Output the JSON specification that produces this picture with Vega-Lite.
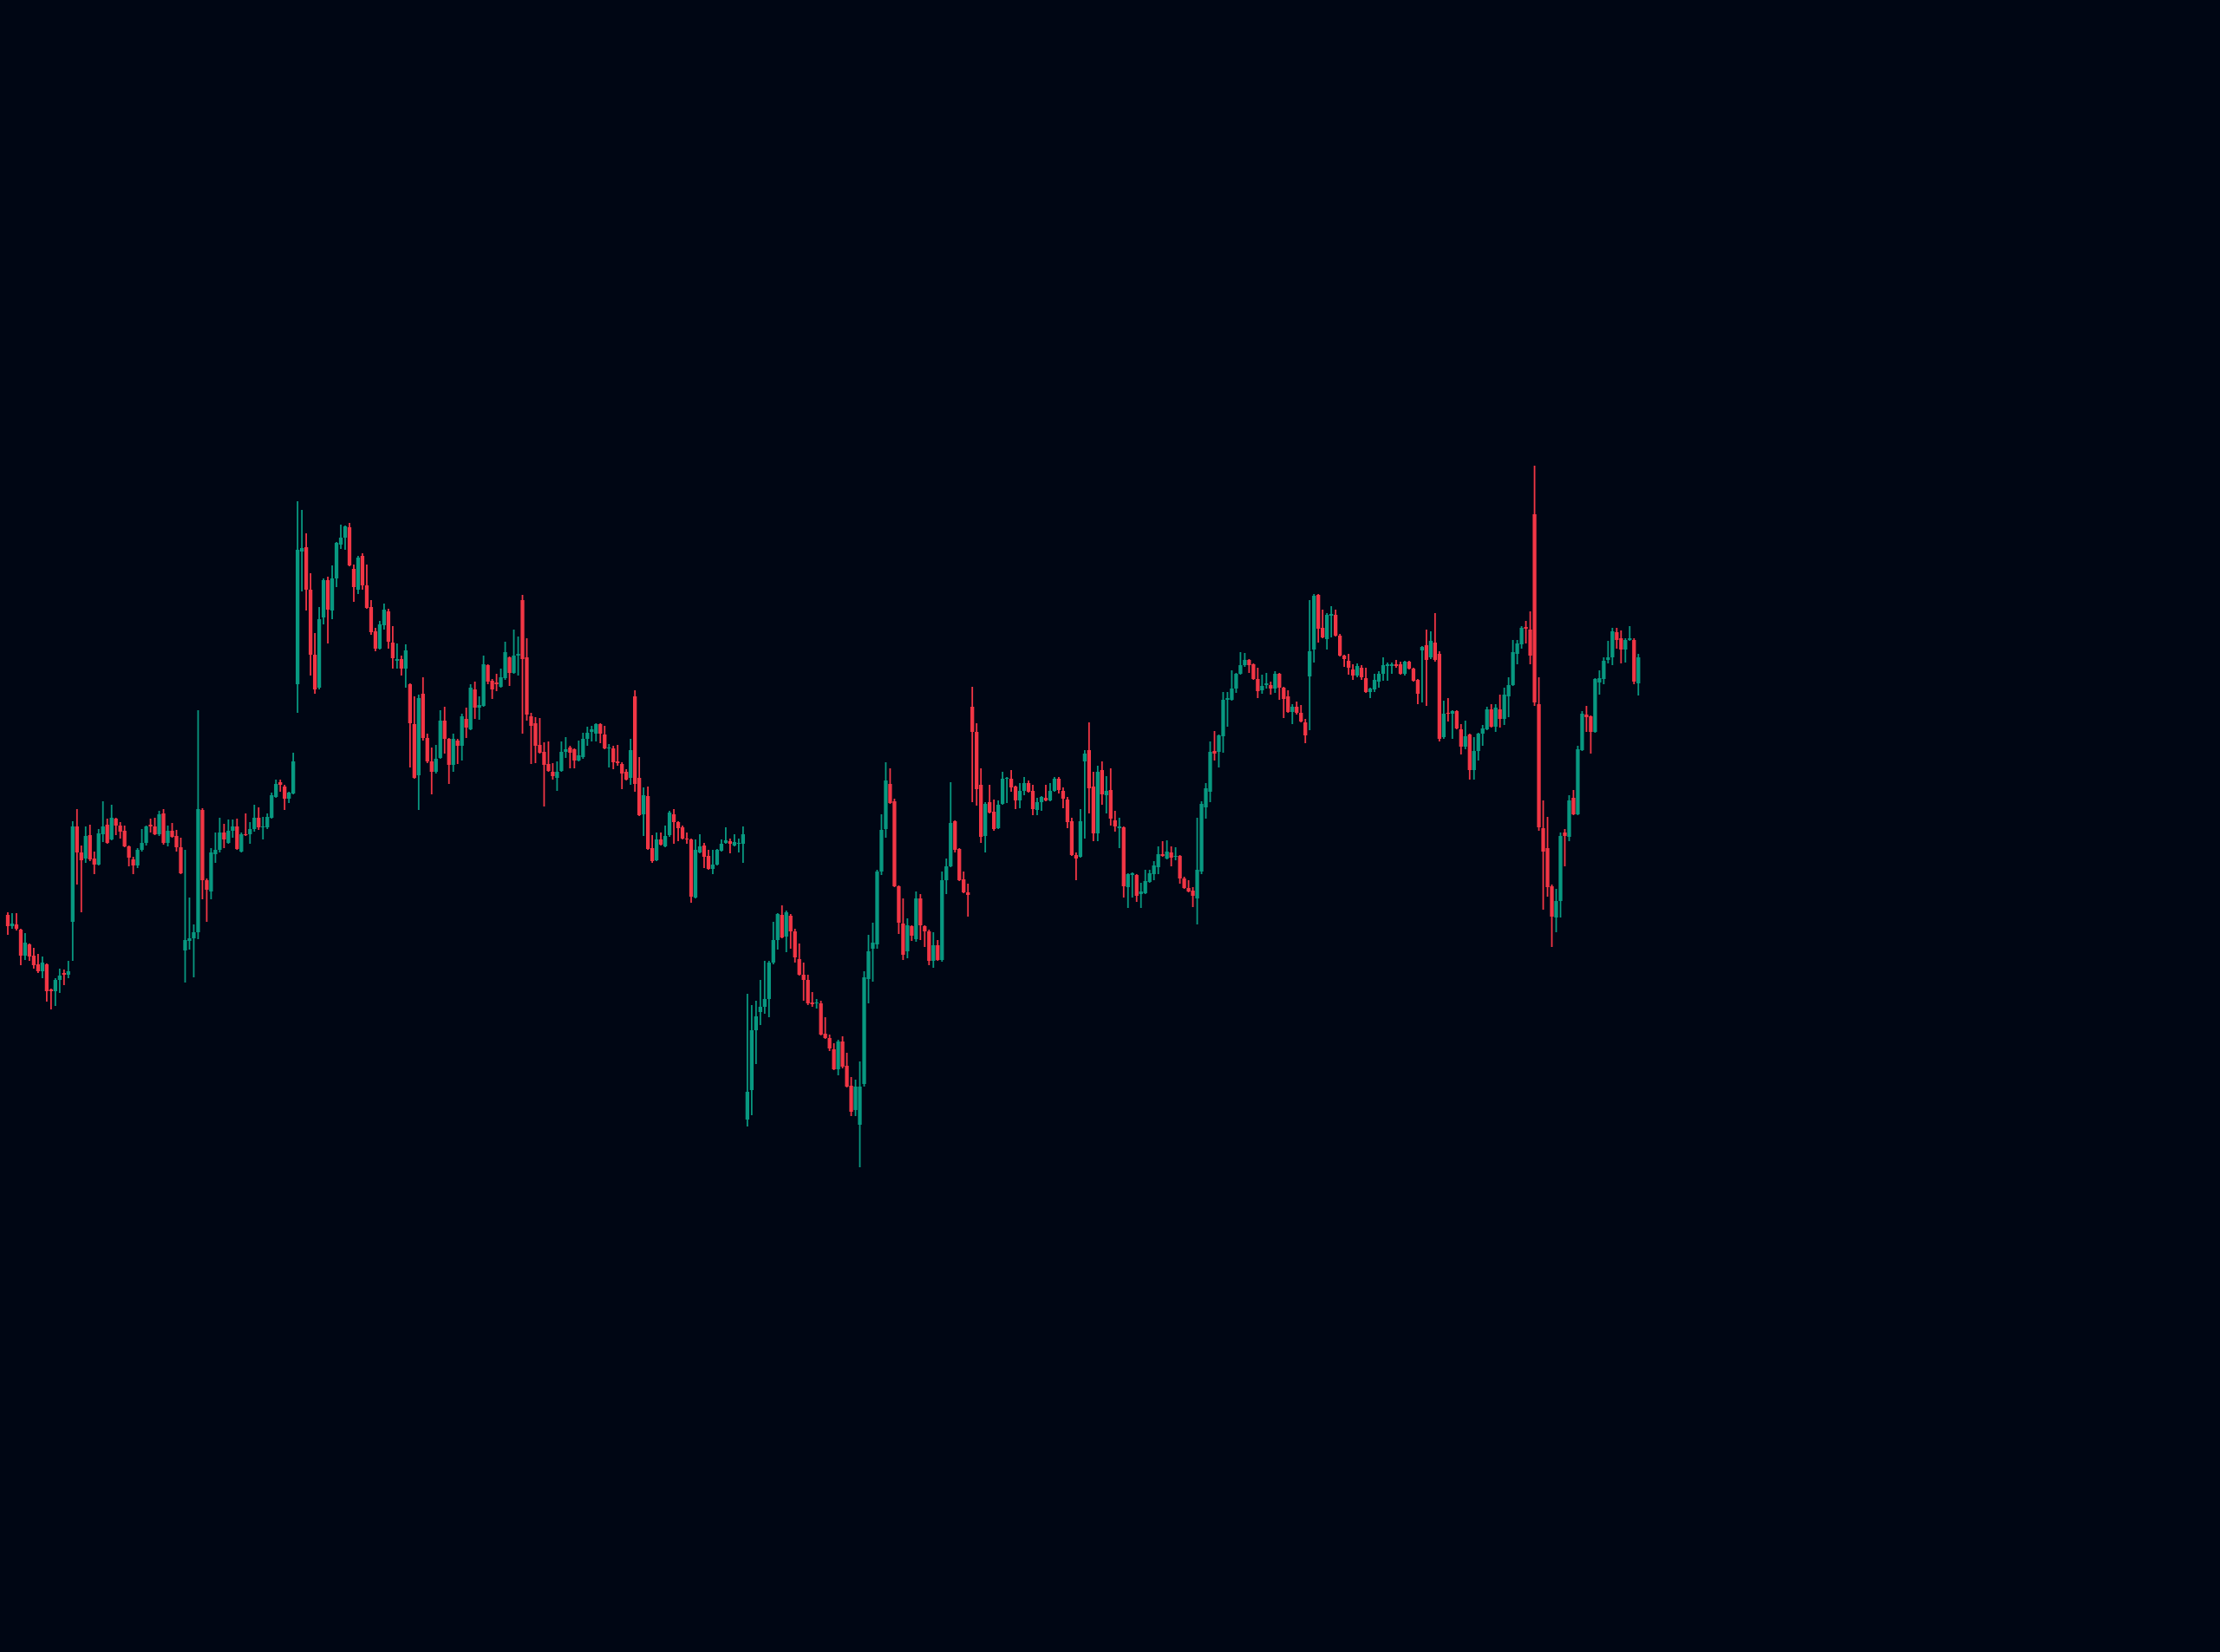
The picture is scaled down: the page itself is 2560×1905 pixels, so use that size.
{
"$schema": "https://vega.github.io/schema/vega-lite/v6.json",
"width": 2560, "height": 1905, "autosize": {"type": "none"}, "padding": 0,
"background": "#000614",
"config": {"view": {"stroke": null}},
"data": {"values": [
{"t":0,"open":94.5,"high":94.8,"low":92.2,"close":93.2},
{"t":1,"open":93.2,"high":94.7,"low":92.9,"close":93.5},
{"t":2,"open":93.4,"high":94.7,"low":92.7,"close":92.9},
{"t":3,"open":92.8,"high":92.9,"low":88.7,"close":89.8},
{"t":4,"open":89.8,"high":92.4,"low":89.3,"close":91.3},
{"t":5,"open":91.1,"high":91.2,"low":89.2,"close":89.7},
{"t":6,"open":89.8,"high":90.7,"low":88.3,"close":88.7},
{"t":7,"open":88.8,"high":90,"low":87.8,"close":88},
{"t":8,"open":88,"high":89.7,"low":87.2,"close":89},
{"t":9,"open":88.8,"high":88.9,"low":84.5,"close":85.7},
{"t":10,"open":85.9,"high":86,"low":83.6,"close":85.7},
{"t":11,"open":85.7,"high":87.2,"low":84,"close":87},
{"t":12,"open":87,"high":88.3,"low":85.5,"close":87.5},
{"t":13,"open":87.8,"high":88.2,"low":86.4,"close":87.6},
{"t":14,"open":87.6,"high":89.2,"low":87.2,"close":88},
{"t":15,"open":93.7,"high":105.3,"low":89.2,"close":104.7},
{"t":16,"open":104.7,"high":106.7,"low":98,"close":101.7},
{"t":17,"open":101.7,"high":102.5,"low":94.8,"close":100.8},
{"t":18,"open":101,"high":104.7,"low":100.5,"close":103.6},
{"t":19,"open":103.7,"high":104.9,"low":100.7,"close":100.9},
{"t":20,"open":101,"high":101.8,"low":99.2,"close":100.3},
{"t":21,"open":100.3,"high":104.4,"low":100.2,"close":103.9},
{"t":22,"open":103.8,"high":107.6,"low":102.9,"close":104.7},
{"t":23,"open":104.9,"high":105.6,"low":102.7,"close":102.8},
{"t":24,"open":103.2,"high":107.2,"low":103.1,"close":105.7},
{"t":25,"open":105.6,"high":105.7,"low":103.7,"close":104.8},
{"t":26,"open":104.8,"high":105.2,"low":103.3,"close":104.1},
{"t":27,"open":104.2,"high":104.8,"low":102.3,"close":102.4},
{"t":28,"open":102.4,"high":102.5,"low":100.1,"close":101.1},
{"t":29,"open":100.9,"high":101.2,"low":99.2,"close":100.2},
{"t":30,"open":100.2,"high":102.2,"low":99.9,"close":102},
{"t":31,"open":102,"high":104.4,"low":101.8,"close":102.8},
{"t":32,"open":102.8,"high":104.8,"low":102.5,"close":104.7},
{"t":33,"open":104.9,"high":105.6,"low":104,"close":104.7},
{"t":34,"open":104.7,"high":105.7,"low":103.7,"close":103.8},
{"t":35,"open":103.8,"high":106.5,"low":103.6,"close":106.1},
{"t":36,"open":106.2,"high":106.7,"low":102.6,"close":102.8},
{"t":37,"open":102.8,"high":104.8,"low":102.4,"close":104.2},
{"t":38,"open":104.2,"high":105.1,"low":103.4,"close":103.5},
{"t":39,"open":103.6,"high":104.3,"low":101.8,"close":102.3},
{"t":40,"open":102.3,"high":103.4,"low":99.2,"close":99.3},
{"t":41,"open":90.4,"high":102,"low":86.7,"close":91.6},
{"t":42,"open":91.5,"high":96.5,"low":90.5,"close":91.8},
{"t":43,"open":91.8,"high":93.4,"low":87.3,"close":92.5},
{"t":44,"open":92.5,"high":118.1,"low":91.7,"close":106.7},
{"t":45,"open":106.6,"high":106.8,"low":96.3,"close":98.5},
{"t":46,"open":98.5,"high":98.7,"low":93.7,"close":97.4},
{"t":47,"open":97.2,"high":102.2,"low":96.3,"close":101.7},
{"t":48,"open":101.5,"high":104,"low":100.5,"close":102},
{"t":49,"open":102,"high":105.7,"low":101.7,"close":104},
{"t":50,"open":104,"high":105,"low":102.2,"close":103.2},
{"t":51,"open":102.8,"high":105.5,"low":102.7,"close":104.2},
{"t":52,"open":104.2,"high":105.5,"low":103.4,"close":104.7},
{"t":53,"open":104.7,"high":105.6,"low":102,"close":102.1},
{"t":54,"open":101.8,"high":104,"low":101.7,"close":103.8},
{"t":55,"open":103.8,"high":106.2,"low":103.6,"close":103.7},
{"t":56,"open":103.8,"high":105.2,"low":102.7,"close":104.4},
{"t":57,"open":104.4,"high":107.2,"low":104.1,"close":105.7},
{"t":58,"open":105.7,"high":106.9,"low":104.3,"close":104.6},
{"t":59,"open":104.6,"high":105.8,"low":103.2,"close":104.7},
{"t":60,"open":104.6,"high":106.2,"low":104.4,"close":105.8},
{"t":61,"open":105.7,"high":108.6,"low":105.6,"close":108.3},
{"t":62,"open":108.1,"high":110.1,"low":108,"close":109.6},
{"t":63,"open":109.8,"high":110.1,"low":108.7,"close":109.5},
{"t":64,"open":109.3,"high":109.5,"low":106.6,"close":107.9},
{"t":65,"open":107.9,"high":108.7,"low":107.4,"close":108.6},
{"t":66,"open":108.5,"high":113.2,"low":108.4,"close":112.2},
{"t":67,"open":121.1,"high":142.2,"low":117.8,"close":136.6},
{"t":68,"open":136.4,"high":141.2,"low":131.8,"close":136.8},
{"t":69,"open":136.9,"high":138.5,"low":129.6,"close":132},
{"t":70,"open":132,"high":133.9,"low":122.1,"close":124.5},
{"t":71,"open":124.5,"high":127,"low":120,"close":120.5},
{"t":72,"open":120.7,"high":130,"low":120.5,"close":128.6},
{"t":73,"open":128.8,"high":133.3,"low":128,"close":133.1},
{"t":74,"open":133.1,"high":133.5,"low":125.8,"close":129.7},
{"t":75,"open":129.6,"high":134.8,"low":128.6,"close":133.3},
{"t":76,"open":133.3,"high":137.5,"low":132.3,"close":137.4},
{"t":77,"open":137.2,"high":139.5,"low":136.7,"close":138},
{"t":78,"open":138,"high":139.4,"low":136.6,"close":139.3},
{"t":79,"open":139.2,"high":139.7,"low":134.7,"close":134.8},
{"t":80,"open":134.4,"high":134.9,"low":130.6,"close":132.3},
{"t":81,"open":132,"high":135.9,"low":131.5,"close":135.7},
{"t":82,"open":135.9,"high":136.2,"low":132,"close":132.5},
{"t":83,"open":132.5,"high":134.9,"low":129.8,"close":129.9},
{"t":84,"open":130,"high":130.8,"low":126.8,"close":127.1},
{"t":85,"open":127.2,"high":127.6,"low":124.9,"close":125.2},
{"t":86,"open":125.2,"high":128.4,"low":125.1,"close":128},
{"t":87,"open":127.9,"high":130.4,"low":127.4,"close":129.7},
{"t":88,"open":129.5,"high":129.8,"low":125.2,"close":126},
{"t":89,"open":125.9,"high":127.8,"low":122.9,"close":124.1},
{"t":90,"open":123.8,"high":125.8,"low":122.9,"close":124},
{"t":91,"open":124,"high":124.4,"low":122.1,"close":122.9},
{"t":92,"open":122.9,"high":125.7,"low":120.7,"close":125},
{"t":93,"open":121.1,"high":121.2,"low":111.5,"close":116.6},
{"t":94,"open":116.5,"high":119.7,"low":110.2,"close":110.3},
{"t":95,"open":110.6,"high":119.9,"low":106.6,"close":119.5},
{"t":96,"open":120,"high":121.9,"low":114.6,"close":114.9},
{"t":97,"open":114.9,"high":115.4,"low":112,"close":112.2},
{"t":98,"open":112.2,"high":113.8,"low":108.4,"close":111},
{"t":99,"open":111,"high":114.1,"low":110.8,"close":112.5},
{"t":100,"open":112.6,"high":118.1,"low":112.5,"close":116.9},
{"t":101,"open":116.9,"high":118.5,"low":113.1,"close":114.8},
{"t":102,"open":114.8,"high":114.9,"low":109.6,"close":111.8},
{"t":103,"open":111.8,"high":115.4,"low":111,"close":114.8},
{"t":104,"open":114.6,"high":114.8,"low":111.9,"close":114},
{"t":105,"open":114,"high":117.7,"low":112.3,"close":117.4},
{"t":106,"open":117.1,"high":118.4,"low":114.9,"close":116.1},
{"t":107,"open":115.9,"high":121.1,"low":115.8,"close":120.7},
{"t":108,"open":120.5,"high":121.4,"low":117.1,"close":118.4},
{"t":109,"open":118.4,"high":119.7,"low":117,"close":118.7},
{"t":110,"open":118.6,"high":124.4,"low":118.5,"close":123.4},
{"t":111,"open":123.3,"high":123.4,"low":121.1,"close":121.4},
{"t":112,"open":121.5,"high":121.7,"low":119.4,"close":120.5},
{"t":113,"open":121.3,"high":122.3,"low":120.3,"close":121.1},
{"t":114,"open":120.8,"high":122.9,"low":120.7,"close":121.9},
{"t":115,"open":121.8,"high":126,"low":121.6,"close":124.8},
{"t":116,"open":124.2,"high":124.3,"low":120.9,"close":122.4},
{"t":117,"open":122.4,"high":127.4,"low":122.3,"close":124.4},
{"t":118,"open":124.4,"high":126.6,"low":122.1,"close":124.6},
{"t":119,"open":130.8,"high":131.4,"low":115.4,"close":124},
{"t":120,"open":124.2,"high":126.4,"low":116.9,"close":117.6},
{"t":121,"open":117.4,"high":117.8,"low":111.9,"close":116.3},
{"t":122,"open":116.6,"high":117.3,"low":112,"close":114},
{"t":123,"open":114.1,"high":117.2,"low":113.1,"close":113.2},
{"t":124,"open":113.3,"high":114.4,"low":107,"close":111.8},
{"t":125,"open":111.9,"high":114.5,"low":111,"close":111.1},
{"t":126,"open":111,"high":112,"low":110.1,"close":110.5},
{"t":127,"open":110.3,"high":112.2,"low":108.8,"close":111},
{"t":128,"open":111.1,"high":114.5,"low":111,"close":113.3},
{"t":129,"open":113.3,"high":115,"low":112.6,"close":113.6},
{"t":130,"open":113.8,"high":114,"low":111.4,"close":113.2},
{"t":131,"open":113.6,"high":113.7,"low":111.4,"close":112.3},
{"t":132,"open":112.3,"high":114.6,"low":112.2,"close":112.9},
{"t":133,"open":112.7,"high":115.5,"low":112.5,"close":114.8},
{"t":134,"open":114.8,"high":116.2,"low":114,"close":115.5},
{"t":135,"open":115.6,"high":116.3,"low":114.5,"close":115.9},
{"t":136,"open":115.4,"high":116.6,"low":114.5,"close":116.5},
{"t":137,"open":116.5,"high":116.6,"low":114.3,"close":115.4},
{"t":138,"open":115.3,"high":116.3,"low":113.6,"close":113.7},
{"t":139,"open":113.7,"high":114.2,"low":111.5,"close":113.8},
{"t":140,"open":113.7,"high":114,"low":111.3,"close":112.1},
{"t":141,"open":112.2,"high":114.1,"low":111.7,"close":112},
{"t":142,"open":111.9,"high":112.1,"low":109,"close":110.8},
{"t":143,"open":111,"high":111.3,"low":110,"close":110.1},
{"t":144,"open":110.3,"high":114.8,"low":109.5,"close":113.5},
{"t":145,"open":119.7,"high":120.4,"low":108.7,"close":109.6},
{"t":146,"open":110.3,"high":112.7,"low":105.9,"close":106},
{"t":147,"open":106.1,"high":109.2,"low":103.6,"close":108.3},
{"t":148,"open":108.2,"high":109.3,"low":102,"close":102.1},
{"t":149,"open":102.2,"high":103.7,"low":100.5,"close":100.7},
{"t":150,"open":100.8,"high":104,"low":100.7,"close":103.2},
{"t":151,"open":103.2,"high":104,"low":102.5,"close":102.6},
{"t":152,"open":102.4,"high":104.8,"low":102.3,"close":103.6},
{"t":153,"open":103.7,"high":106.5,"low":103.5,"close":106.3},
{"t":154,"open":106.1,"high":106.7,"low":102.7,"close":105.2},
{"t":155,"open":105.2,"high":105.3,"low":103,"close":104.5},
{"t":156,"open":104.6,"high":104.8,"low":103.2,"close":103.3},
{"t":157,"open":103.3,"high":104,"low":102.7,"close":103.2},
{"t":158,"open":103.2,"high":103.3,"low":95.9,"close":96.6},
{"t":159,"open":96.5,"high":103.2,"low":96.4,"close":102},
{"t":160,"open":101.7,"high":103.8,"low":101.6,"close":102.4},
{"t":161,"open":102.5,"high":102.8,"low":99.9,"close":101.2},
{"t":162,"open":101.3,"high":102,"low":99.7,"close":99.8},
{"t":163,"open":99.8,"high":102,"low":99.2,"close":100.3},
{"t":164,"open":100.3,"high":102.1,"low":100.2,"close":102},
{"t":165,"open":101.9,"high":103.2,"low":101.8,"close":102.7},
{"t":166,"open":102.8,"high":104.6,"low":102.7,"close":103.1},
{"t":167,"open":103,"high":103.3,"low":101.6,"close":102.7},
{"t":168,"open":102.5,"high":103.8,"low":102.4,"close":102.9},
{"t":169,"open":102.7,"high":103.3,"low":101.7,"close":102.8},
{"t":170,"open":102.7,"high":104.7,"low":100.5,"close":103.8},
{"t":171,"open":70.9,"high":85.4,"low":70.1,"close":74.1},
{"t":172,"open":74.3,"high":84.1,"low":71.4,"close":81.2},
{"t":173,"open":81.2,"high":84.6,"low":77.3,"close":82.8},
{"t":174,"open":83.3,"high":87,"low":81.8,"close":83.9},
{"t":175,"open":83.9,"high":89.2,"low":83.1,"close":84.8},
{"t":176,"open":84.8,"high":89.2,"low":82.7,"close":89},
{"t":177,"open":89,"high":93.7,"low":88.8,"close":91.6},
{"t":178,"open":91.6,"high":94.7,"low":90.5,"close":94.6},
{"t":179,"open":94.5,"high":95.6,"low":91.8,"close":91.9},
{"t":180,"open":92,"high":95,"low":90.2,"close":94.8},
{"t":181,"open":94.4,"high":94.6,"low":90.6,"close":92.6},
{"t":182,"open":92.6,"high":92.9,"low":89,"close":89.6},
{"t":183,"open":89.4,"high":91.2,"low":87.5,"close":87.6},
{"t":184,"open":87.6,"high":89,"low":84.6,"close":87},
{"t":185,"open":87,"high":87.6,"low":84.1,"close":84.3},
{"t":186,"open":84.4,"high":85.6,"low":83.9,"close":84.2},
{"t":187,"open":84.3,"high":84.8,"low":83.7,"close":84.4},
{"t":188,"open":84.3,"high":84.6,"low":80.6,"close":80.7},
{"t":189,"open":80.8,"high":82.7,"low":80.2,"close":80.3},
{"t":190,"open":80.3,"high":80.7,"low":78.8,"close":79.1},
{"t":191,"open":79,"high":79.7,"low":76.6,"close":76.7},
{"t":192,"open":76.7,"high":80.1,"low":76,"close":79.9},
{"t":193,"open":79.9,"high":80.5,"low":76.8,"close":77},
{"t":194,"open":77.1,"high":78.6,"low":74.6,"close":74.7},
{"t":195,"open":74.8,"high":75.8,"low":71.3,"close":71.8},
{"t":196,"open":72,"high":75.5,"low":71.3,"close":74.7},
{"t":197,"open":70.3,"high":77.6,"low":65.4,"close":74.7},
{"t":198,"open":75,"high":88,"low":74.7,"close":87.3},
{"t":199,"open":87.1,"high":92.2,"low":84.3,"close":90.3},
{"t":200,"open":90.6,"high":93.6,"low":86.8,"close":91.3},
{"t":201,"open":91.1,"high":99.7,"low":90.6,"close":99.5},
{"t":202,"open":99.5,"high":106.1,"low":99.1,"close":104.3},
{"t":203,"open":104.4,"high":112.1,"low":103.4,"close":110},
{"t":204,"open":109.6,"high":111.4,"low":107.3,"close":107.4},
{"t":205,"open":107.6,"high":107.9,"low":97.7,"close":97.8},
{"t":206,"open":97.8,"high":97.9,"low":92.3,"close":93.6},
{"t":207,"open":93.5,"high":96.4,"low":89.3,"close":89.9},
{"t":208,"open":90.3,"high":94.1,"low":89.5,"close":93.3},
{"t":209,"open":93.2,"high":93.3,"low":91.5,"close":92.1},
{"t":210,"open":91.7,"high":97.2,"low":91.4,"close":96.4},
{"t":211,"open":96.4,"high":96.9,"low":91.6,"close":93.3},
{"t":212,"open":93.2,"high":93.3,"low":90.8,"close":92.6},
{"t":213,"open":92.6,"high":92.8,"low":88.7,"close":89.2},
{"t":214,"open":89.2,"high":92.5,"low":88.4,"close":91},
{"t":215,"open":91,"high":91.6,"low":89.2,"close":89.3},
{"t":216,"open":89.3,"high":99.5,"low":89.1,"close":98.5},
{"t":217,"open":98.5,"high":101,"low":96.9,"close":100.1},
{"t":218,"open":100.1,"high":109.8,"low":100,"close":105.1},
{"t":219,"open":105.3,"high":105.4,"low":101.7,"close":102},
{"t":220,"open":102.1,"high":102.2,"low":98.4,"close":98.5},
{"t":221,"open":98.6,"high":99.5,"low":97,"close":97.1},
{"t":222,"open":97.1,"high":98.1,"low":94.3,"close":96.8},
{"t":223,"open":118.5,"high":120.8,"low":107.5,"close":115.6},
{"t":224,"open":115.6,"high":116.6,"low":107.1,"close":109},
{"t":225,"open":109.5,"high":111.4,"low":102.8,"close":103.5},
{"t":226,"open":103.6,"high":107.5,"low":101.7,"close":107.3},
{"t":227,"open":107.5,"high":109.5,"low":106.2,"close":106.3},
{"t":228,"open":106.4,"high":107.8,"low":104.2,"close":104.4},
{"t":229,"open":104.5,"high":107.7,"low":104.4,"close":107.2},
{"t":230,"open":107.3,"high":111,"low":107.2,"close":110.2},
{"t":231,"open":110.2,"high":110.4,"low":107.4,"close":110.3},
{"t":232,"open":110.2,"high":111.2,"low":108.7,"close":109.2},
{"t":233,"open":109.3,"high":109.4,"low":106.7,"close":107.7},
{"t":234,"open":107.7,"high":109.7,"low":106.8,"close":108.8},
{"t":235,"open":108.8,"high":110.4,"low":108.3,"close":109.7},
{"t":236,"open":109.7,"high":110,"low":108.6,"close":108.7},
{"t":237,"open":108.8,"high":109.5,"low":106,"close":106.7},
{"t":238,"open":106.6,"high":108,"low":106,"close":107.5},
{"t":239,"open":107.5,"high":108.2,"low":106.5,"close":108.1},
{"t":240,"open":108,"high":109.5,"low":107.6,"close":107.7},
{"t":241,"open":107.7,"high":109.7,"low":107.6,"close":108.8},
{"t":242,"open":108.8,"high":110.4,"low":108.7,"close":110.2},
{"t":243,"open":110.2,"high":110.4,"low":108.5,"close":108.9},
{"t":244,"open":108.8,"high":109.2,"low":106.8,"close":107.9},
{"t":245,"open":107.8,"high":108.1,"low":104.5,"close":105.2},
{"t":246,"open":105.3,"high":105.7,"low":101.3,"close":101.4},
{"t":247,"open":101.4,"high":101.7,"low":98.5,"close":101},
{"t":248,"open":101.2,"high":106.7,"low":101.1,"close":105.3},
{"t":249,"open":112.2,"high":113.5,"low":103.3,"close":113.1},
{"t":250,"open":113.5,"high":116.7,"low":106.2,"close":109.1},
{"t":251,"open":109.3,"high":111,"low":103,"close":103.9},
{"t":252,"open":103.9,"high":111.7,"low":103,"close":111},
{"t":253,"open":111.2,"high":112.2,"low":107.2,"close":108.4},
{"t":254,"open":108.3,"high":110.5,"low":106.2,"close":108.8},
{"t":255,"open":108.9,"high":111.4,"low":104.8,"close":105.6},
{"t":256,"open":105.4,"high":106.5,"low":104.1,"close":104.7},
{"t":257,"open":104.5,"high":105.7,"low":102.2,"close":104.7},
{"t":258,"open":104.6,"high":104.7,"low":96.5,"close":97.8},
{"t":259,"open":97.7,"high":99.3,"low":95.3,"close":99.2},
{"t":260,"open":99.1,"high":99.4,"low":96.5,"close":99.3},
{"t":261,"open":99.1,"high":99.2,"low":96,"close":96.7},
{"t":262,"open":96.9,"high":98.2,"low":95.3,"close":97.2},
{"t":263,"open":97,"high":99.7,"low":96.9,"close":98.4},
{"t":264,"open":98.3,"high":99.7,"low":98.2,"close":99.3},
{"t":265,"open":99.2,"high":100.7,"low":98.5,"close":100.2},
{"t":266,"open":100,"high":102.4,"low":99.2,"close":101.5},
{"t":267,"open":101.5,"high":103,"low":101.2,"close":101.3},
{"t":268,"open":101,"high":103.1,"low":100.9,"close":101.8},
{"t":269,"open":101.7,"high":102.4,"low":100.1,"close":101.1},
{"t":270,"open":101.2,"high":102.3,"low":100.8,"close":101.3},
{"t":271,"open":101.3,"high":101.4,"low":98.1,"close":98.7},
{"t":272,"open":98.7,"high":98.9,"low":97.5,"close":97.6},
{"t":273,"open":97.6,"high":98.5,"low":97.1,"close":97.2},
{"t":274,"open":97.3,"high":97.7,"low":95.4,"close":96.7},
{"t":275,"open":96.4,"high":105.7,"low":93.4,"close":99.7},
{"t":276,"open":99.5,"high":107.6,"low":99.2,"close":107.3},
{"t":277,"open":106.9,"high":109.7,"low":105.6,"close":109.1},
{"t":278,"open":108.7,"high":114.5,"low":107.5,"close":113.3},
{"t":279,"open":113.4,"high":115.7,"low":112.3,"close":113.1},
{"t":280,"open":113.3,"high":115.3,"low":111.5,"close":115.2},
{"t":281,"open":115.1,"high":120.2,"low":113.2,"close":119.3},
{"t":282,"open":119.3,"high":120.2,"low":116.2,"close":119.5},
{"t":283,"open":119.3,"high":122.7,"low":119.2,"close":120.6},
{"t":284,"open":120.6,"high":122.4,"low":120.1,"close":122.3},
{"t":285,"open":122.3,"high":124.8,"low":122.2,"close":123.3},
{"t":286,"open":123.3,"high":124.7,"low":123.1,"close":123.9},
{"t":287,"open":123.9,"high":124,"low":122.4,"close":123.3},
{"t":288,"open":123.4,"high":123.5,"low":121.6,"close":121.7},
{"t":289,"open":121.7,"high":123,"low":119.5,"close":120.3},
{"t":290,"open":120.4,"high":122.2,"low":120,"close":120.9},
{"t":291,"open":121,"high":122.4,"low":120.6,"close":121.2},
{"t":292,"open":121,"high":121.4,"low":119.9,"close":120.6},
{"t":293,"open":120.6,"high":122.6,"low":120.1,"close":122.3},
{"t":294,"open":122.3,"high":122.4,"low":119.3,"close":120.7},
{"t":295,"open":120.7,"high":120.8,"low":117.2,"close":119.4},
{"t":296,"open":119.7,"high":120.4,"low":117.8,"close":117.9},
{"t":297,"open":117.9,"high":118.8,"low":116.5,"close":118.5},
{"t":298,"open":118.5,"high":119.1,"low":117.6,"close":117.8},
{"t":299,"open":117.8,"high":118.7,"low":116.7,"close":116.8},
{"t":300,"open":116.7,"high":117.1,"low":114.3,"close":115.2},
{"t":301,"open":122,"high":130.8,"low":115.8,"close":124.9},
{"t":302,"open":125.1,"high":131.5,"low":123.6,"close":131.3},
{"t":303,"open":131.4,"high":131.5,"low":125.9,"close":127.5},
{"t":304,"open":127.6,"high":129.7,"low":126.4,"close":126.5},
{"t":305,"open":126.3,"high":129.3,"low":125.1,"close":129.1},
{"t":306,"open":129,"high":130.1,"low":126.5,"close":129.2},
{"t":307,"open":129.1,"high":129.7,"low":126.6,"close":126.7},
{"t":308,"open":126.7,"high":126.9,"low":124.3,"close":124.4},
{"t":309,"open":124.4,"high":124.5,"low":123.1,"close":124},
{"t":310,"open":123.8,"high":124.6,"low":122.2,"close":123},
{"t":311,"open":122.8,"high":123.4,"low":121.6,"close":122.1},
{"t":312,"open":122.1,"high":123.5,"low":121.9,"close":123.2},
{"t":313,"open":123,"high":123.3,"low":121.6,"close":121.9},
{"t":314,"open":121.8,"high":123,"low":120.1,"close":120.2},
{"t":315,"open":120.2,"high":120.7,"low":119.5,"close":120.6},
{"t":316,"open":120.5,"high":122.3,"low":120.2,"close":121.6},
{"t":317,"open":121.4,"high":122.6,"low":120.7,"close":122.3},
{"t":318,"open":122.3,"high":124.2,"low":121.5,"close":123.3},
{"t":319,"open":123.2,"high":123.6,"low":121.5,"close":123.4},
{"t":320,"open":123.2,"high":123.6,"low":122.3,"close":123.4},
{"t":321,"open":123.4,"high":123.9,"low":123,"close":123.2},
{"t":322,"open":123.4,"high":123.7,"low":122.2,"close":122.3},
{"t":323,"open":122.3,"high":123.8,"low":122.1,"close":123.7},
{"t":324,"open":123.7,"high":123.8,"low":122.8,"close":122.9},
{"t":325,"open":122.9,"high":123,"low":121.4,"close":121.5},
{"t":326,"open":121.6,"high":121.7,"low":118.8,"close":120},
{"t":327,"open":125,"high":125.5,"low":119,"close":125.4},
{"t":328,"open":125.6,"high":127.4,"low":118.6,"close":123.9},
{"t":329,"open":124.2,"high":127.2,"low":124,"close":126.1},
{"t":330,"open":125.9,"high":129.3,"low":123.7,"close":123.9},
{"t":331,"open":124.6,"high":124.9,"low":114.5,"close":114.8},
{"t":332,"open":115,"high":119.2,"low":114.8,"close":117.7},
{"t":333,"open":117.8,"high":119.5,"low":116.8,"close":117.7},
{"t":334,"open":117.7,"high":118.1,"low":114.8,"close":118},
{"t":335,"open":118,"high":118.1,"low":115.9,"close":116},
{"t":336,"open":115.9,"high":116.5,"low":113,"close":113.9},
{"t":337,"open":113.9,"high":116.9,"low":113.6,"close":115.1},
{"t":338,"open":115.3,"high":115.4,"low":110.1,"close":111.2},
{"t":339,"open":111.2,"high":115,"low":110.1,"close":113.4},
{"t":340,"open":113.4,"high":115.5,"low":112.3,"close":115.4},
{"t":341,"open":115.4,"high":116.4,"low":114,"close":116},
{"t":342,"open":115.9,"high":118.5,"low":115.8,"close":118.2},
{"t":343,"open":118.2,"high":118.8,"low":116.1,"close":116.2},
{"t":344,"open":116.2,"high":118.8,"low":115.6,"close":118.4},
{"t":345,"open":118.2,"high":119.9,"low":116.1,"close":117.1},
{"t":346,"open":117.1,"high":120.7,"low":116.4,"close":119.9},
{"t":347,"open":119.7,"high":121.9,"low":117.3,"close":121},
{"t":348,"open":121,"high":126.2,"low":120.9,"close":124.8},
{"t":349,"open":124.6,"high":126.2,"low":123.4,"close":125.8},
{"t":350,"open":125.7,"high":127.8,"low":125.2,"close":127.6},
{"t":351,"open":127.7,"high":128.4,"low":125.8,"close":127.5},
{"t":352,"open":127.4,"high":129.5,"low":123.4,"close":124.4},
{"t":353,"open":140.7,"high":146.3,"low":118.6,"close":119},
{"t":354,"open":118.8,"high":121.9,"low":104.2,"close":104.6},
{"t":355,"open":104.5,"high":107.7,"low":95.1,"close":101.8},
{"t":356,"open":102.2,"high":105.8,"low":96.6,"close":97.7},
{"t":357,"open":97.8,"high":98,"low":90.8,"close":94.3},
{"t":358,"open":94.2,"high":97.5,"low":92.5,"close":96.1},
{"t":359,"open":96.1,"high":104,"low":94.2,"close":103.6},
{"t":360,"open":104,"high":104.4,"low":100.1,"close":103.6},
{"t":361,"open":103.5,"high":108.3,"low":103,"close":107.7},
{"t":362,"open":108,"high":108.9,"low":106,"close":106.1},
{"t":363,"open":106.1,"high":114,"low":106,"close":113.6},
{"t":364,"open":113.5,"high":118,"low":113.4,"close":117.7},
{"t":365,"open":117.6,"high":118.6,"low":115.6,"close":117.3},
{"t":366,"open":117.4,"high":117.5,"low":113.1,"close":115.6},
{"t":367,"open":115.6,"high":121.8,"low":115.5,"close":121.7},
{"t":368,"open":121.3,"high":122.7,"low":119.9,"close":121.8},
{"t":369,"open":121.7,"high":124.2,"low":121.1,"close":123.8},
{"t":370,"open":123.9,"high":126.1,"low":123.5,"close":124.2},
{"t":371,"open":124.2,"high":127.6,"low":123.3,"close":127.2},
{"t":372,"open":127.1,"high":127.6,"low":125.2,"close":126.2},
{"t":373,"open":126.4,"high":127.3,"low":123.5,"close":125.1},
{"t":374,"open":125.1,"high":126.4,"low":123.6,"close":126.2},
{"t":375,"open":126.2,"high":127.8,"low":126.1,"close":126.4},
{"t":376,"open":126.2,"high":126.4,"low":121.1,"close":121.4},
{"t":377,"open":121.2,"high":124.6,"low":119.8,"close":124.2}
]},
"encoding": {
  "x": {"field": "t", "type": "quantitative", "scale": {"domain": [-0.8, 510.48], "nice": false, "zero": false}, "axis": null},
  "color": {"condition": {"test": "datum.close >= datum.open", "value": "#089981"}, "value": "#F23645"}
},
"layer": [
  {"mark": {"type": "rule", "strokeWidth": 1.8},
   "encoding": {
     "y": {"field": "low", "type": "quantitative", "scale": {"domain": [9.5, 200], "nice": false, "zero": false}, "axis": null},
     "y2": {"field": "high"}}},
  {"mark": {"type": "bar", "width": 4.3},
   "encoding": {
     "y": {"field": "open", "type": "quantitative", "scale": {"domain": [9.5, 200], "nice": false, "zero": false}, "axis": null},
     "y2": {"field": "close"}}}
]
}
